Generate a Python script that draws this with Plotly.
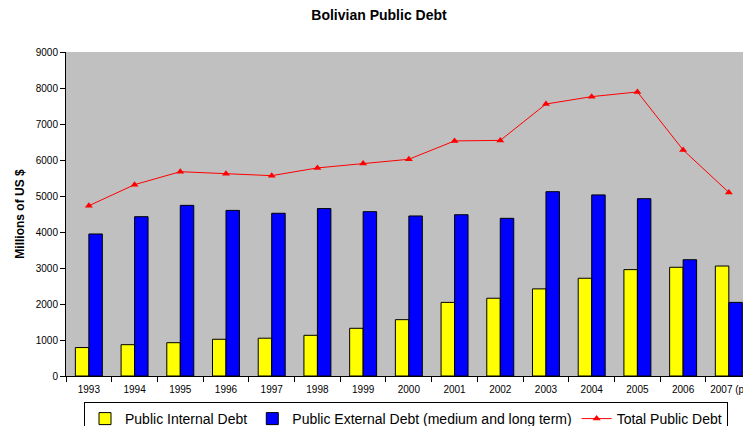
import plotly.graph_objects as go

years = ["1993", "1994", "1995", "1996", "1997", "1998", "1999", "2000",
         "2001", "2002", "2003", "2004", "2005", "2006", "2007 (p)"]
internal_debt = [790, 870, 925, 1020, 1050, 1130, 1325, 1565,
                 2045, 2160, 2420, 2715, 2955, 3020, 3055]
external_debt = [3945, 4425, 4740, 4600, 4520, 4650, 4565, 4445,
                 4480, 4380, 5120, 5030, 4925, 3230, 2045]
total_debt = [4730, 5315, 5675, 5620, 5565, 5780, 5900, 6020,
              6530, 6545, 7555, 7760, 7890, 6280, 5100]

FONT = "Arial, 'Liberation Sans', sans-serif"

W, H = 743, 426
L, T, B = 66, 52, 50
PW, PH = W - L, H - T - B

fig = go.Figure()
fig.add_trace(go.Bar(x=years, y=internal_debt, name="Public Internal Debt",
                     marker=dict(color="#FFFF00", line=dict(color="black", width=1))))
fig.add_trace(go.Bar(x=years, y=external_debt,
                     name="Public External Debt (medium and long term)",
                     marker=dict(color="#0000FF", line=dict(color="black", width=1))))
fig.add_trace(go.Scatter(x=years, y=total_debt, name="Total Public Debt",
                         mode="lines+markers",
                         line=dict(color="#FF0000", width=1),
                         marker=dict(symbol="triangle-up", size=7, color="#FF0000")))

fig.update_layout(
    width=W, height=H,
    margin=dict(l=L, r=0, t=T, b=B, autoexpand=False),
    paper_bgcolor="white",
    plot_bgcolor="#C0C0C0",
    font=dict(family=FONT, color="black", size=10),
    barmode="group",
    bargap=0.41,
    bargroupgap=0,
    title=dict(text="<b>Bolivian Public Debt</b>", x=379 / W, xref="container",
               xanchor="center", y=1 - 15 / H, yanchor="middle",
               font=dict(size=14, family=FONT)),
    showlegend=True,
    legend=dict(orientation="h", x=(84 - L) / PW, xanchor="left",
                y=-(402 - (T + PH)) / PH, yanchor="top",
                bordercolor="black", borderwidth=1, bgcolor="white",
                font=dict(size=14, family=FONT), traceorder="normal"),
    xaxis=dict(type="category", range=[-0.5, 14.31], showgrid=False,
               showline=True, linecolor="black", linewidth=1,
               ticks="outside", ticklen=5, tickcolor="black",
               tickson="boundaries", tickfont=dict(size=10),
               ticklabelstandoff=4,
               automargin=False, zeroline=False),
    yaxis=dict(range=[0, 9000], dtick=1000, showgrid=False,
               showline=True, linecolor="black", linewidth=1,
               ticks="outside", ticklen=5, tickcolor="black",
               tickfont=dict(size=10), automargin=False, zeroline=False,
               title=dict(text="<b>Millions of US $</b>", standoff=8,
                          font=dict(size=12, family=FONT))),
)

fig.write_html("out.html",
               config={"displayModeBar": False},
               post_script="document.body.style.margin='0';"
                           "document.body.style.overflow='hidden';")
